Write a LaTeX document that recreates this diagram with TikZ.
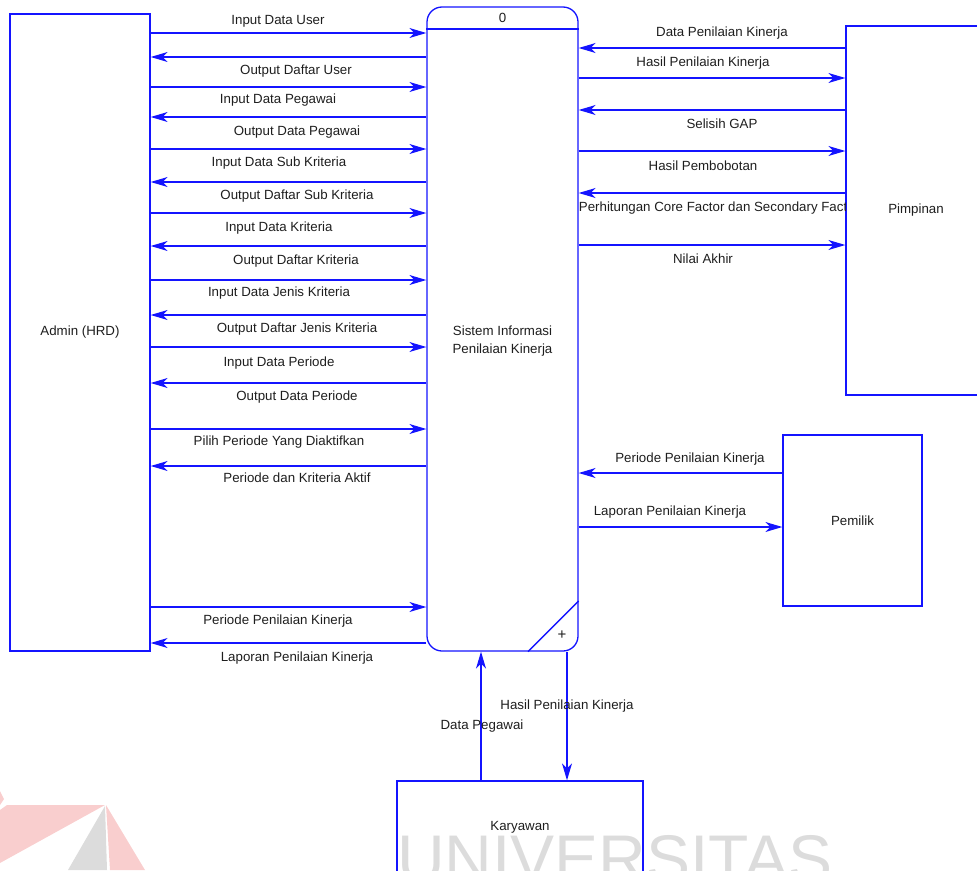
\documentclass[tikz,border=0pt]{standalone}
\usepackage{fontspec}
\setmainfont{Liberation Sans}
\usetikzlibrary{arrows.meta}
\definecolor{dfdblue}{RGB}{20,20,255}
\definecolor{txt}{RGB}{30,30,30}
\definecolor{wmgray}{RGB}{220,220,220}
\definecolor{wmpink}{RGB}{249,206,206}
\begin{document}
\begin{tikzpicture}[x=1pt,y=-1pt,
  box/.style={draw=dfdblue, line width=1.3pt, fill=white, inner sep=0pt, font=\fontsize{13.3}{16}\selectfont, text=txt},
  flow/.style={draw=dfdblue, line width=1.3pt, -{Stealth[length=17pt,width=10pt,inset=5pt]}},
  edge/.style={draw=dfdblue, line width=1.3pt},
  lbl/.style={font=\fontsize{13.3}{16}\selectfont, text=txt, inner sep=0pt}]
\useasboundingbox (0,0) rectangle (977,870);
% watermark logo
\fill[wmpink] (0,810) -- (7,805) -- (105,805) -- (0,863) -- cycle;
\fill[wmpink] (0,791) -- (4,799) -- (0,805) -- cycle;
\fill[wmgray] (105,806) -- (107,870) -- (68,870) -- cycle;
\fill[wmpink] (106,805) -- (145,870) -- (110,870) -- cycle;
% boxes
\node[box, minimum width=140pt, minimum height=637pt] (admin) at (80,332.5) {Admin (HRD)};
\node[box, rounded corners=15pt, minimum width=151pt, minimum height=644pt] (proc) at (502.5,329) {};
\node[box, minimum width=140pt, minimum height=369pt] (pimp) at (916,210.5) {Pimpinan};
\node[box, minimum width=139pt, minimum height=171pt] (pemilik) at (852.5,520.5) {Pemilik};
\node[box, fill=none, minimum width=246pt, minimum height=92pt] (kary) at (520,827) {Karyawan};
% watermark text
\node[font=\fontsize{66}{66}\selectfont, text=wmgray, anchor=base west, inner sep=0pt] (wm) at (397,881) {UNIVERSITAS};
% process details
\draw[edge] (proc.west |- 0,29) -- (proc.east |- 0,29);
\node[lbl] (pnum) at (502.5,18) {0};
\node[lbl, align=center, font=\fontsize{13.3}{17.5}\selectfont] (ptext) at (502.5,341) {Sistem Informasi\\Penilaian Kinerja};
\draw[edge] (proc.south -| 528,0) -- (proc.east |- 0,601);
\node[lbl, font=\fontsize{15}{16}\selectfont] (pplus) at (562,635) {+};
% admin -> process
\foreach \ay/\lx/\ly/\t in {33/278/21/Input Data User, 87/278/100/Input Data Pegawai, 149/279/163/Input Data Sub Kriteria, 213/279/228/Input Data Kriteria, 280/279/293/Input Data Jenis Kriteria, 347/279/363/Input Data Periode, 429/279/442/Pilih Periode Yang Diaktifkan, 607/278/621/Periode Penilaian Kinerja} {
  \draw[flow] (admin.east |- 0,\ay) -- (proc.west |- 0,\ay);
  \node[lbl] (lin\ay) at (\lx,\ly) {\t};
}
% process -> admin
\foreach \ay/\lx/\ly/\t in {57/296/71/Output Daftar User, 117/297/132/Output Data Pegawai, 182/297/196/Output Daftar Sub Kriteria, 246/296/261/Output Daftar Kriteria, 315/297/329/Output Daftar Jenis Kriteria, 383/297/397/Output Data Periode, 466/297/478/Periode dan Kriteria Aktif, 643/297/658/Laporan Penilaian Kinerja} {
  \draw[flow] (proc.west |- 0,\ay) -- (admin.east |- 0,\ay);
  \node[lbl] (lout\ay) at (\lx,\ly) {\t};
}
% process -> pimpinan
\foreach \ay/\lx/\ly/\t in {78/703/63/Hasil Penilaian Kinerja, 151/703/166/Hasil Pembobotan, 245/703/259/Nilai Akhir} {
  \draw[flow] (proc.east |- 0,\ay) -- (pimp.west |- 0,\ay);
  \node[lbl] (rout\ay) at (\lx,\ly) {\t};
}
% pimpinan -> process
\foreach \ay/\lx/\ly/\t in {48/722/33/Data Penilaian Kinerja, 110/722/124/Selisih GAP} {
  \draw[flow] (pimp.west |- 0,\ay) -- (proc.east |- 0,\ay);
  \node[lbl] (rin\ay) at (\lx,\ly) {\t};
}
\draw[flow] (pimp.west |- 0,193) -- (proc.east |- 0,193);
\begin{scope}
  \clip (proc.east |- 0,180) rectangle (pimp.west |- 0,230);
  \node[lbl] (rin193) at (719,208) {Perhitungan Core Factor dan Secondary Factor};
\end{scope}
% pemilik
\draw[flow] (pemilik.west |- 0,473) -- (proc.east |- 0,473);
\node[lbl] (pmin) at (690,459) {Periode Penilaian Kinerja};
\draw[flow] (proc.east |- 0,527) -- (pemilik.west |- 0,527);
\node[lbl] (pmout) at (670,512) {Laporan Penilaian Kinerja};
% karyawan
\draw[flow] (kary.north -| 481,0) -- (proc.south -| 481,0);
\node[lbl] (kin) at (482,726) {Data Pegawai};
\draw[flow] (proc.south -| 567,0) -- (kary.north -| 567,0);
\node[lbl] (kout) at (567,706) {Hasil Penilaian Kinerja};
\end{tikzpicture}
\end{document}
